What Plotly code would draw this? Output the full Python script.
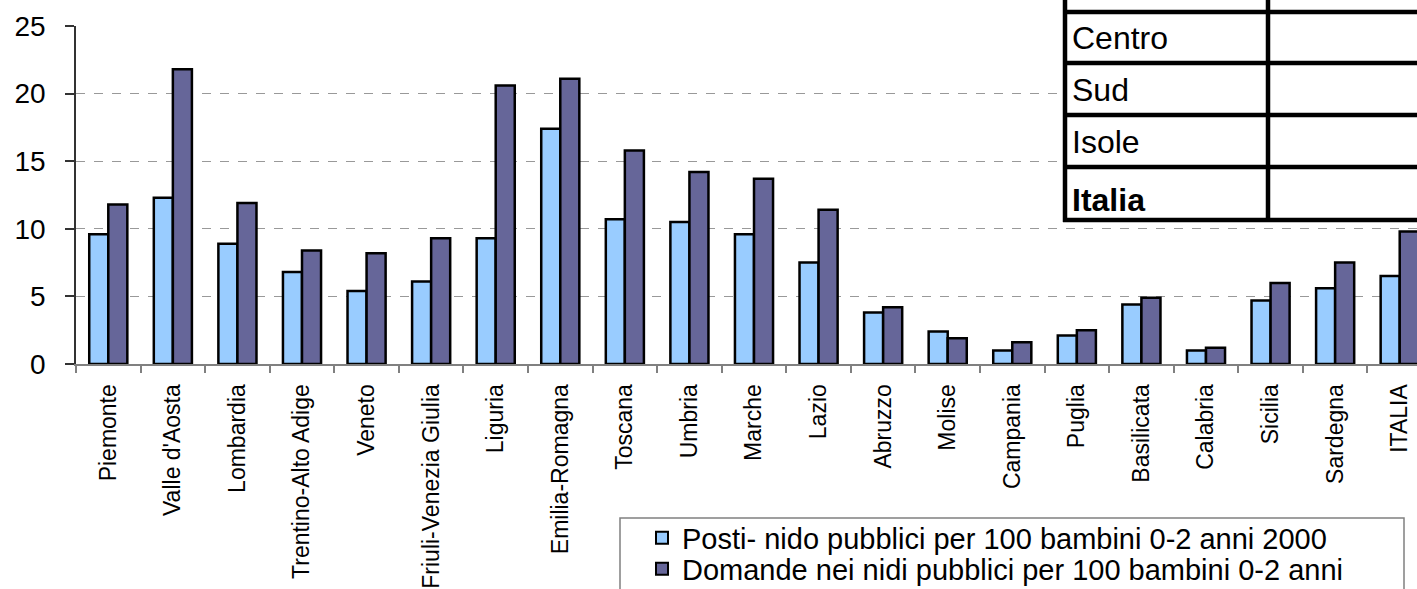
import plotly.graph_objects as go

regions = ["Piemonte", "Valle d'Aosta", "Lombardia", "Trentino-Alto Adige", "Veneto",
           "Friuli-Venezia Giulia", "Liguria", "Emilia-Romagna", "Toscana", "Umbria",
           "Marche", "Lazio", "Abruzzo", "Molise", "Campania", "Puglia", "Basilicata",
           "Calabria", "Sicilia", "Sardegna", "ITALIA"]
posti_2000 = [9.6, 12.3, 8.9, 6.8, 5.4, 6.1, 9.3, 17.4, 10.7, 10.5, 9.6, 7.5,
              3.8, 2.4, 1.0, 2.1, 4.4, 1.0, 4.7, 5.6, 6.5]
domande = [11.8, 21.8, 11.9, 8.4, 8.2, 9.3, 20.6, 21.1, 15.8, 14.2, 13.7, 11.4,
           4.2, 1.9, 1.6, 2.5, 4.9, 1.2, 6.0, 7.5, 9.8]
series_names = ["Posti- nido pubblici per 100 bambini 0-2 anni 2000",
                "Domande nei nidi pubblici per 100 bambini 0-2 anni"]
table_rows = ["Centro", "Sud", "Isole", "Italia"]
y_ticks = [0, 5, 10, 15, 20, 25]

W, H = 1417, 589
L, T, B = 76, 26, 225
PW, PH = W - L, H - T - B
FONT = "Liberation Sans, Arial, sans-serif"


def px(x):
    return (x - L) / PW


def py(y):
    return (H - B - y) / PH


fig = go.Figure()
fig.add_trace(go.Bar(x=regions, y=posti_2000, name=series_names[0], legend="legend",
                     marker=dict(color="#99CCFF", line=dict(color="black", width=2.5))))
fig.add_trace(go.Bar(x=regions, y=domande, name=series_names[1], legend="legend2",
                     marker=dict(color="#666699", line=dict(color="black", width=2.5))))

shapes = []
# legend frame
shapes.append(dict(type="rect", xref="paper", yref="paper", x0=px(620), x1=px(1404),
                   y0=py(605), y1=py(518), fillcolor="white",
                   line=dict(color="#808080", width=1.5), layer="above"))
# overlay table (top right)
tx0, tdiv, tx1 = 1065, 1268, 1440
shapes.append(dict(type="rect", xref="paper", yref="paper", x0=px(tx0), x1=px(tx1),
                   y0=py(222), y1=py(-10), fillcolor="white", line=dict(width=0), layer="above"))
for yy in [12, 63, 115, 167, 220]:
    shapes.append(dict(type="line", xref="paper", yref="paper", x0=px(tx0 - 2), x1=px(tx1),
                       y0=py(yy), y1=py(yy), line=dict(color="black", width=4.5), layer="above"))
for xx in [tx0, tdiv]:
    shapes.append(dict(type="line", xref="paper", yref="paper", x0=px(xx), x1=px(xx),
                       y0=py(222), y1=py(-10), line=dict(color="black", width=4.5), layer="above"))

annotations = []
row_centers = [38, 90, 142, 200]
for name, yc in zip(table_rows, row_centers):
    txt = f"<b>{name}</b>" if name == "Italia" else name
    annotations.append(dict(x=px(1070), y=py(yc), xref="paper", yref="paper", text=txt,
                            showarrow=False, xanchor="left", yanchor="middle",
                            font=dict(family=FONT, size=32, color="black")))

legend_common = dict(xref="container", yref="container", x=620 / W,
                     xanchor="left", yanchor="middle", bgcolor="rgba(0,0,0,0)",
                     borderwidth=0, indentation=22,
                     font=dict(family=FONT, size=29, color="black"),
                     itemsizing="constant")

fig.update_layout(
    width=W, height=H,
    margin=dict(l=L, r=0, t=T, b=B, pad=0, autoexpand=False),
    paper_bgcolor="white", plot_bgcolor="white",
    barmode="group", bargap=0.41, bargroupgap=0,
    showlegend=True,
    legend=dict(y=1 - 538 / H, **legend_common),
    legend2=dict(y=1 - 569 / H, **legend_common),
    shapes=shapes, annotations=annotations,
    xaxis=dict(type="category", categoryorder="array", categoryarray=regions,
               range=[-0.5, 20.5 - 15 / 64.6], showgrid=False, zeroline=False,
               showline=True, linecolor="#808080", linewidth=2,
               ticks="outside", tickson="boundaries", ticklen=7, tickcolor="#808080",
               tickwidth=1.5, tickangle=-90, ticklabelstandoff=9,
               tickfont=dict(family=FONT, size=23, color="black")),
    yaxis=dict(range=[0, 25], tickvals=y_ticks, showgrid=True, gridcolor="#999999",
               griddash="dash", gridwidth=1.2, zeroline=False,
               showline=True, linecolor="#333333", linewidth=1.5,
               ticks="outside", ticklen=9, tickcolor="#333333", tickwidth=1.5,
               ticklabelstandoff=14,
               tickfont=dict(family=FONT, size=28, color="black")),
)

fig.write_html("out.html", config={"displayModeBar": False},
               post_script="document.body.style.margin='0px';document.body.style.overflow='hidden';")
